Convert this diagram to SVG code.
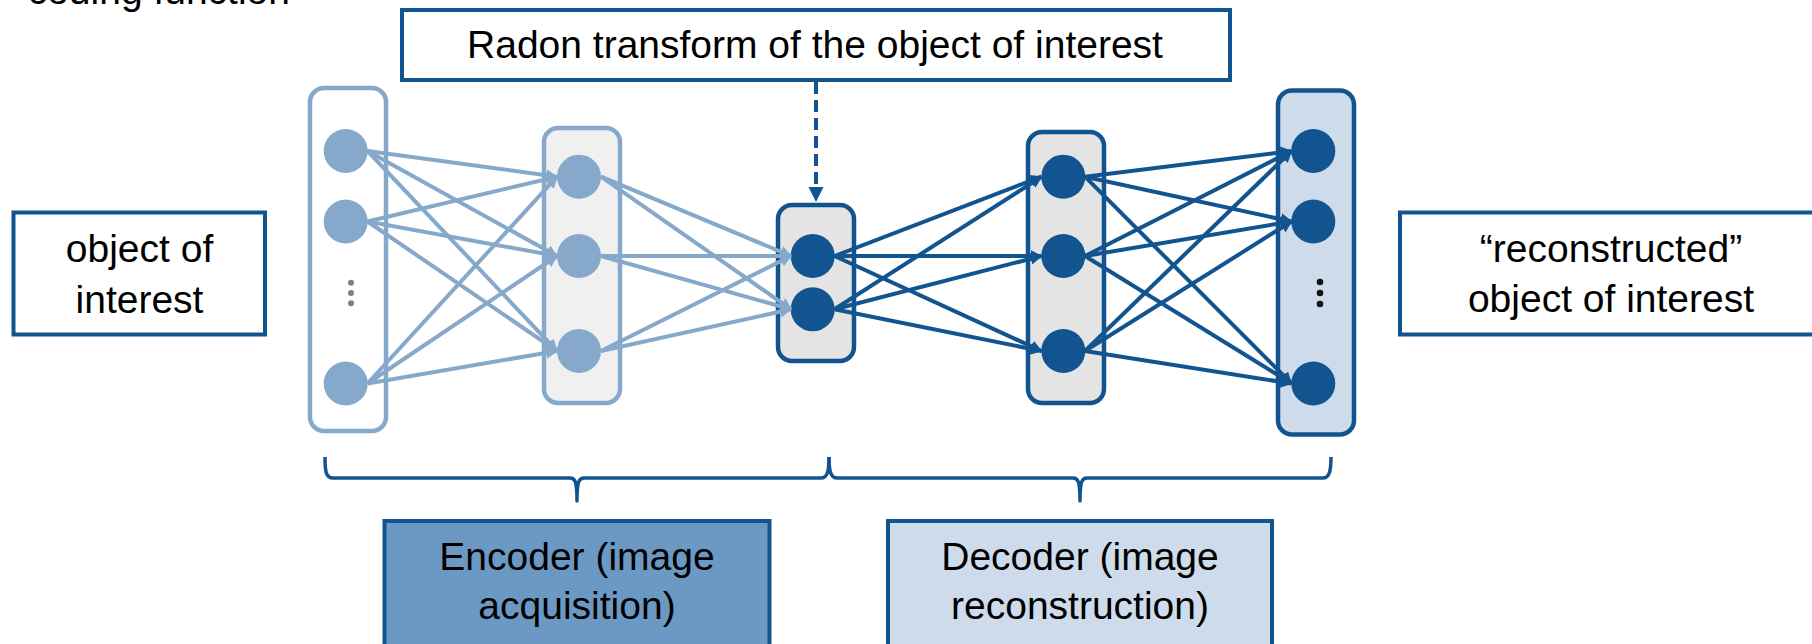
<svg xmlns="http://www.w3.org/2000/svg" width="1812" height="644" viewBox="0 0 1812 644">
<style>
  text { font-family: "Liberation Sans", Arial, sans-serif; font-size: 39px; fill: #000; text-anchor: middle; }
  .box { fill: #fff; stroke: #12548f; stroke-width: 4; }
  .lbox { fill: #fff; stroke: #86a9cb; stroke-width: 4.5; }
  .lbox2 { fill: #f0f0f0; stroke: #86a9cb; stroke-width: 4.5; }
  .dbox { fill: #e4e4e4; stroke: #12548f; stroke-width: 4.5; }
  .obox { fill: #cddbea; stroke: #12548f; stroke-width: 4.5; }
  .ln { fill: #86a9cb; }
  .dn { fill: #12548f; }
  .le { stroke: #86a9cb; stroke-width: 4; fill: none; marker-end: url(#al); }
  .de { stroke: #12548f; stroke-width: 4; fill: none; marker-end: url(#ad); }
  .brace { stroke: #12548f; stroke-width: 3.5; fill: none; stroke-linejoin: round; }
</style>
<defs>
  <marker id="al" markerUnits="userSpaceOnUse" markerWidth="14" markerHeight="14" refX="11" refY="6" orient="auto">
    <path d="M0,0 L12,6 L0,12 z" fill="#86a9cb"/>
  </marker>
  <marker id="ad" markerUnits="userSpaceOnUse" markerWidth="14" markerHeight="14" refX="11" refY="6" orient="auto">
    <path d="M0,0 L12,6 L0,12 z" fill="#12548f"/>
  </marker>
</defs>
<rect width="1812" height="644" fill="#fff"/>

<g id="partial-title">
  <text x="290" y="4" style="text-anchor:end">coding function</text>
</g>

<g id="radon">
  <rect class="box" x="402" y="10" width="828" height="70"/>
  <text x="815" y="58">Radon transform of the object of interest</text>
</g>

<g id="input">
  <rect class="box" x="13.5" y="212.5" width="251.5" height="122"/>
  <text x="139.5" y="262">object of</text>
  <text x="139.5" y="313">interest</text>
</g>

<g id="output">
  <rect class="box" x="1400" y="212.5" width="440" height="122"/>
  <text x="1611" y="262">“reconstructed”</text>
  <text x="1611" y="312">object of interest</text>
</g>

<g id="layer1">
  <rect class="lbox" x="310" y="88" width="76" height="343" rx="14"/>
  <circle class="ln" cx="345.7" cy="151" r="22"/>
  <circle class="ln" cx="345.7" cy="221.5" r="22"/>
  <circle class="ln" cx="345.7" cy="383.5" r="22"/>
  <circle cx="351" cy="282.7" r="3" fill="#808080"/>
  <circle cx="351" cy="293" r="3" fill="#808080"/>
  <circle cx="351" cy="303.3" r="3" fill="#808080"/>
</g>

<g id="layer2">
  <rect class="lbox2" x="544" y="128" width="76" height="275" rx="14"/>
  <circle class="ln" cx="579" cy="176.7" r="22"/>
  <circle class="ln" cx="579" cy="256" r="22"/>
  <circle class="ln" cx="579" cy="351" r="22"/>
</g>

<g id="layer3">
  <rect class="dbox" x="778" y="205" width="76" height="156" rx="14"/>
  <circle class="dn" cx="812.7" cy="256" r="22"/>
  <circle class="dn" cx="812.7" cy="309.3" r="22"/>
</g>

<g id="layer4">
  <rect class="dbox" x="1028" y="132" width="76" height="271" rx="14"/>
  <circle class="dn" cx="1063.3" cy="176.7" r="22"/>
  <circle class="dn" cx="1063.3" cy="256" r="22"/>
  <circle class="dn" cx="1063.3" cy="351" r="22"/>
</g>

<g id="layer5">
  <rect class="obox" x="1278" y="90.5" width="76" height="344" rx="14"/>
  <circle class="dn" cx="1313.3" cy="151" r="22"/>
  <circle class="dn" cx="1313.3" cy="221.5" r="22"/>
  <circle class="dn" cx="1313.3" cy="383.5" r="22"/>
  <circle cx="1320" cy="282" r="3.3" fill="#111"/>
  <circle cx="1320" cy="293" r="3.3" fill="#111"/>
  <circle cx="1320" cy="304" r="3.3" fill="#111"/>
</g>

<g id="encoder">
  <rect x="384.5" y="521" width="385" height="140" fill="#6b99c3" stroke="#12548f" stroke-width="4"/>
  <text x="577" y="570">Encoder (image</text>
  <text x="577" y="619">acquisition)</text>
</g>

<g id="decoder">
  <rect x="888" y="521" width="384" height="140" fill="#cddbea" stroke="#12548f" stroke-width="4"/>
  <text x="1080" y="570">Decoder (image</text>
  <text x="1080" y="619">reconstruction)</text>
</g>

<g id="braces">
  <path class="brace" d="M325,457 C325,472 326,478 333,478 L570,478 C575,478 577,481 577,501 C577,481 579,478 584,478 L821,478 C827,478 829,472 829,457"/>
  <path class="brace" d="M829,457 C829,472 831,478 837,478 L1073,478 C1078,478 1080,481 1080,501 C1080,481 1082,478 1087,478 L1323,478 C1329,478 1331,472 1331,457"/>
</g>

<g id="connectors">
  <!-- layer1 -> layer2 -->
  <line class="le" x1="367.5" y1="151" x2="557" y2="176.7"/>
  <line class="le" x1="367.5" y1="151" x2="557" y2="256"/>
  <line class="le" x1="367.5" y1="151" x2="557" y2="351"/>
  <line class="le" x1="367.5" y1="221.5" x2="557" y2="176.7"/>
  <line class="le" x1="367.5" y1="221.5" x2="557" y2="256"/>
  <line class="le" x1="367.5" y1="221.5" x2="557" y2="351"/>
  <line class="le" x1="367.5" y1="383.5" x2="557" y2="176.7"/>
  <line class="le" x1="367.5" y1="383.5" x2="557" y2="256"/>
  <line class="le" x1="367.5" y1="383.5" x2="557" y2="351"/>
  <!-- layer2 -> layer3 -->
  <line class="le" x1="601" y1="176.7" x2="791" y2="256"/>
  <line class="le" x1="601" y1="176.7" x2="791" y2="309.3"/>
  <line class="le" x1="601" y1="256" x2="791" y2="256"/>
  <line class="le" x1="601" y1="256" x2="791" y2="309.3"/>
  <line class="le" x1="601" y1="351" x2="791" y2="256"/>
  <line class="le" x1="601" y1="351" x2="791" y2="309.3"/>
  <!-- layer3 -> layer4 -->
  <line class="de" x1="834.5" y1="256" x2="1041.5" y2="176.7"/>
  <line class="de" x1="834.5" y1="256" x2="1041.5" y2="256"/>
  <line class="de" x1="834.5" y1="256" x2="1041.5" y2="351"/>
  <line class="de" x1="834.5" y1="309.3" x2="1041.5" y2="176.7"/>
  <line class="de" x1="834.5" y1="309.3" x2="1041.5" y2="256"/>
  <line class="de" x1="834.5" y1="309.3" x2="1041.5" y2="351"/>
  <!-- layer4 -> layer5 -->
  <line class="de" x1="1085" y1="176.7" x2="1291.5" y2="151"/>
  <line class="de" x1="1085" y1="176.7" x2="1291.5" y2="221.5"/>
  <line class="de" x1="1085" y1="176.7" x2="1291.5" y2="383.5"/>
  <line class="de" x1="1085" y1="256" x2="1291.5" y2="151"/>
  <line class="de" x1="1085" y1="256" x2="1291.5" y2="221.5"/>
  <line class="de" x1="1085" y1="256" x2="1291.5" y2="383.5"/>
  <line class="de" x1="1085" y1="351" x2="1291.5" y2="151"/>
  <line class="de" x1="1085" y1="351" x2="1291.5" y2="221.5"/>
  <line class="de" x1="1085" y1="351" x2="1291.5" y2="383.5"/>
  <!-- radon -> layer3 (dashed) -->
  <line x1="816" y1="82" x2="816" y2="188" stroke="#12548f" stroke-width="4" stroke-dasharray="12 6"/>
  <path d="M808.5,187 L823.5,187 L816,202 z" fill="#12548f"/>
</g>
</svg>
